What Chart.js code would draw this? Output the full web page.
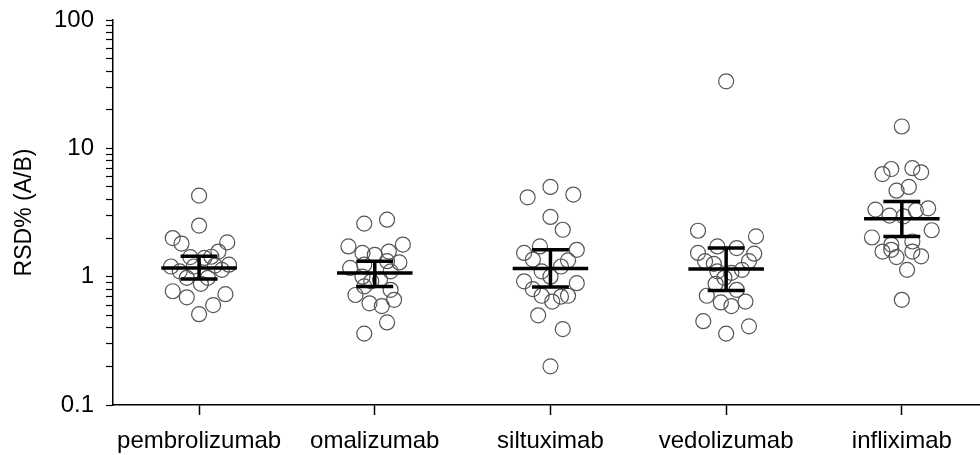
<!DOCTYPE html>
<html>
<head>
<meta charset="utf-8">
<script src="https://cdn.jsdelivr.net/npm/chart.js@4.4.1/dist/chart.umd.min.js"></script>
<style>
  html, body { margin: 0; padding: 0; background: #fff; }
  #wrap { width: 980px; height: 455px; }
</style>
</head>
<body>
<div id="wrap"><canvas id="chart" width="980" height="455"></canvas></div>
<script>
const categories = ['pembrolizumab', 'omalizumab', 'siltuximab', 'vedolizumab', 'infliximab'];
const yTickLabels = [0.1, 1, 10, 100];

// RSD% values per antibody, with the horizontal jitter of each point (category units)
const pembrolizumab = [4.28, 2.5, 2.0, 1.81, 1.85, 1.57, 1.42, 1.40, 1.43, 1.2, 1.24, 1.1, 1.13, 0.98, 0.98, 0.88, 0.77, 0.69, 0.73, 0.60, 0.51, 1.2, 1.22];
const pembrolizumabJitter = [0, 0, -0.15, -0.10, 0.16, 0.11, -0.05, 0.03, 0.07, -0.16, 0.17, -0.11, 0.13, -0.07, 0.05, 0.01, -0.15, -0.07, 0.15, 0.08, 0, -0.03, 0.09];

const omalizumab = [2.59, 2.78, 1.72, 1.78, 1.53, 1.48, 1.57, 1.29, 1.17, 1.24, 1.32, 1.1, 1.0, 0.92, 0.95, 0.72, 0.62, 0.59, 0.66, 0.44, 0.36, 0.84, 0.79];
const omalizumabJitter = [-0.06, 0.07, -0.15, 0.16, -0.07, 0, 0.08, 0.14, -0.14, -0.06, 0.07, 0.09, -0.07, -0.02, 0.03, -0.11, -0.03, 0.04, 0.11, 0.07, -0.06, -0.06, 0.09];

const siltuximab = [5.0, 4.15, 4.36, 2.92, 2.32, 1.72, 1.53, 1.62, 1.34, 1.36, 1.1, 1.2, 1.0, 0.92, 0.8, 0.71, 0.64, 0.70, 0.71, 0.89, 0.5, 0.39, 0.2];
const siltuximabJitter = [0, -0.13, 0.13, 0, 0.07, -0.06, -0.15, 0.15, 0.10, -0.10, -0.05, 0.06, 0, -0.15, -0.10, -0.05, 0.01, 0.06, 0.10, 0.15, -0.07, 0.07, 0];

const vedolizumab = [33.3, 2.28, 2.06, 1.53, 1.72, 1.67, 1.51, 1.32, 1.26, 1.32, 1.1, 1.07, 1.13, 0.98, 0.88, 0.79, 0.71, 0.63, 0.59, 0.64, 0.45, 0.41, 0.36];
const vedolizumabJitter = [0, -0.16, 0.17, -0.16, -0.05, 0.06, 0.16, -0.12, -0.07, 0.13, -0.05, 0.03, 0.09, -0.01, -0.06, 0.06, -0.11, -0.03, 0.03, 0.11, -0.13, 0.13, 0];

const infliximab = [14.8, 6.3, 6.9, 7.0, 6.5, 4.68, 5.0, 3.33, 2.99, 2.95, 3.28, 3.41, 2.3, 2.02, 1.78, 1.88, 1.57, 1.62, 1.42, 1.57, 1.44, 1.13, 0.66];
const infliximabJitter = [0, -0.11, -0.06, 0.06, 0.11, -0.03, 0.04, -0.15, -0.07, 0.01, 0.08, 0.15, 0.17, -0.17, -0.06, 0.06, -0.11, -0.06, -0.03, 0.06, 0.11, 0.03, 0];

// median with interquartile range
const medians = [1.17, 1.07, 1.16, 1.15, 2.83];
const upperQ = [1.44, 1.32, 1.62, 1.67, 3.86];
const lowerQ = [0.96, 0.84, 0.83, 0.78, 2.06];

const groups = [
    [pembrolizumab, pembrolizumabJitter],
    [omalizumab, omalizumabJitter],
    [siltuximab, siltuximabJitter],
    [vedolizumab, vedolizumabJitter],
    [infliximab, infliximabJitter]
];

const points = [];
groups.forEach(([vals, jit], i) => {
    vals.forEach((v, k) => points.push({ x: i + jit[k], y: v }));
});

const MED_HALF = 0.215;
const CAP_HALF = 0.105;
const gap = { x: NaN, y: null };

const medianLines = [];
const errLines = [];
medians.forEach((m, i) => {
    medianLines.push({ x: i - MED_HALF, y: m }, { x: i + MED_HALF, y: m }, gap);
    errLines.push(
        { x: i - CAP_HALF, y: upperQ[i] }, { x: i + CAP_HALF, y: upperQ[i] }, gap,
        { x: i, y: upperQ[i] }, { x: i, y: lowerQ[i] }, gap,
        { x: i - CAP_HALF, y: lowerQ[i] }, { x: i + CAP_HALF, y: lowerQ[i] }, gap
    );
});

const FONT = 'Liberation Sans, Arial, sans-serif';

new Chart(document.getElementById('chart'), {
    type: 'scatter',
    data: {
        datasets: [
            {
                data: medianLines,
                type: 'line',
                borderColor: '#000',
                borderWidth: 3.5,
                pointRadius: 0,
                spanGaps: false,
                order: 0
            },
            {
                data: errLines,
                type: 'line',
                borderColor: '#000',
                borderWidth: 3.5,
                pointRadius: 0,
                spanGaps: false,
                order: 0
            },
            {
                data: points,
                pointRadius: 7.5,
                pointBorderWidth: 1.2,
                pointBorderColor: '#555',
                pointBackgroundColor: 'rgba(255,255,255,0)',
                order: 1
            }
        ]
    },
    options: {
        responsive: false,
        animation: false,
        layout: { autoPadding: false, padding: { top: 20, right: 0, left: 0, bottom: 0 } },
        plugins: {
            legend: { display: false },
            tooltip: { enabled: false }
        },
        scales: {
            x: {
                type: 'linear',
                min: -0.49,
                max: 4.445,
                afterFit: s => { s.height = 50; s.paddingLeft = 0; s.paddingRight = 0; },
                afterBuildTicks: s => { s.ticks = categories.map((c, i) => ({ value: i })); },
                ticks: {
                    color: '#000',
                    font: { family: FONT, size: 24 },
                    padding: 12,
                    autoSkip: false,
                    maxRotation: 0,
                    callback: v => categories[v]
                },
                grid: { drawOnChartArea: false, tickLength: 10, color: '#000', tickWidth: 1.5 },
                border: { display: true, color: '#000', width: 1.5 }
            },
            y: {
                type: 'logarithmic',
                min: 0.1,
                max: 100,
                afterFit: s => { s.width = 113; s.paddingTop = 0; s.paddingBottom = 0; },
                afterBuildTicks: s => {
                    const t = [];
                    yTickLabels.forEach((d, k) => {
                        if (k === yTickLabels.length - 1) { t.push({ value: d }); return; }
                        for (let m = 1; m <= 9; m++) t.push({ value: +(d * m).toPrecision(3) });
                    });
                    s.ticks = t;
                },
                ticks: {
                    color: '#000',
                    font: { family: FONT, size: 24 },
                    padding: 12,
                    autoSkip: false,
                    callback: v => yTickLabels.includes(v) ? String(v) : ''
                },
                grid: { drawOnChartArea: false, tickLength: 7, color: '#000', tickWidth: 1.2 },
                border: { display: true, color: '#000', width: 1.5 },
                title: {
                    display: true,
                    text: 'RSD% (A/B)',
                    color: '#000',
                    font: { family: FONT, size: 23 },
                    padding: { top: 11, bottom: 0 }
                }
            }
        }
    }
});
</script>
</body>
</html>
